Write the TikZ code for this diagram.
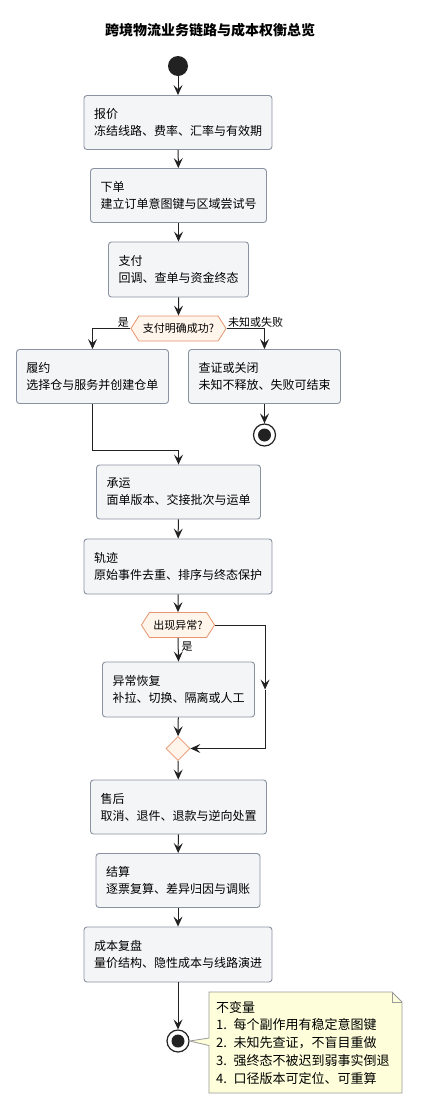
\documentclass[tikz,border=0pt]{standalone}
\usepackage{fontspec}
\setmainfont{Noto Sans CJK SC}
\usetikzlibrary{arrows.meta,shapes.symbols,shapes.geometric,calc}
\definecolor{boxfill}{HTML}{F4F5F7}
\definecolor{boxline}{HTML}{8A93A1}
\definecolor{decfill}{HTML}{FFF5EB}
\definecolor{decline}{HTML}{E8946C}
\definecolor{notefill}{HTML}{FEFFDA}
\definecolor{noteline}{HTML}{9A9A9A}
\definecolor{dot}{HTML}{222222}
\tikzset{
  act/.style={draw=boxline, fill=boxfill, rounded corners=3pt, line width=0.9pt,
    align=left, inner xsep=10pt, inner ysep=0pt, minimum height=54pt,
    font=\fontsize{12}{17}\selectfont},
  decision/.style={draw=decline, fill=decfill, line width=0.8pt, signal,
    signal to=west and east, signal pointer angle=115, minimum height=25pt,
    inner xsep=4pt, inner ysep=0pt, font=\fontsize{11}{13}\selectfont},
  merger/.style={draw=decline, fill=decfill, line width=0.8pt, diamond,
    minimum size=24pt, inner sep=0pt},
  startdot/.style={circle, fill=dot, minimum size=20pt, inner sep=0pt},
  stopdot/.style={circle, draw=dot, fill=white, line width=1.2pt, minimum size=22pt,
    inner sep=0pt, path picture={\fill[dot] (path picture bounding box.center) circle (6.5pt);}},
  flow/.style={-{Stealth[length=10pt,width=9pt,inset=4pt]}, line width=1pt, draw=dot},
  lbl/.style={font=\fontsize{11}{13}\selectfont, inner sep=1pt},
  notetext/.style={align=left, text width=179pt, inner xsep=7pt, inner ysep=0pt,
    minimum height=101pt, font=\fontsize{13}{17.75}\selectfont},
}
\begin{document}
\begin{tikzpicture}[x=1pt, y=-1pt]
  \fill[white] (0,0) rectangle (421,1112);
  \useasboundingbox (0,0) rectangle (421,1112);

  \node[font=\fontsize{14}{17}\selectfont\bfseries] (title) at (210,30) {跨境物流业务链路与成本权衡总览};

  \node[startdot] (start) at (178,66) {};
  \node[act] (quote) at (178,122.5) {报价\\冻结线路、费率、汇率与有效期};
  \node[act] (order) at (178.5,195.5) {下单\\建立订单意图键与区域尝试号};
  \node[act, minimum height=55pt] (pay) at (178.5,269.5) {支付\\回调、查单与资金终态};
  \node[decision] (dec1) at (178.5,328.5) {支付明确成功?};
  \node[act] (fulfil) at (92.5,376.5) {履约\\选择仓与服务并创建仓单};
  \node[act] (verify) at (264.5,376.5) {查证或关闭\\未知不释放、失败可结束};
  \node[stopdot] (stop1) at (264.5,435) {};
  \node[act] (carry) at (178.5,492) {承运\\面单版本、交接批次与运单};
  \node[act, minimum height=55pt] (track) at (178,566.5) {轨迹\\原始事件去重、排序与终态保护};
  \node[decision] (dec2) at (178,625) {出现异常?};
  \node[act, minimum height=55pt] (recover) at (178.5,689.5) {异常恢复\\补拉、切换、隔离或人工};
  \node[merger] (merge) at (178,748.5) {};
  \node[act] (after) at (178.5,807) {售后\\取消、退件、退款与逆向处置};
  \node[act] (settle) at (178,880.5) {结算\\逐票复算、差异归因与调账};
  \node[act, minimum height=55pt] (review) at (178,954.5) {成本复盘\\量价结构、隐性成本与线路演进};
  \node[stopdot] (stop2) at (178,1041) {};

  \draw[flow] (start) -- (quote);
  \draw[flow] (quote) -- (order);
  \draw[flow] (order) -- (pay);
  \draw[flow] (pay) -- (dec1);
  \draw[flow] (dec1.west) -| (fulfil.north) node[lbl, pos=0, anchor=south east] (yes1) {是};
  \draw[flow] (dec1.east) -| (verify.north) node[lbl, pos=0, anchor=south west] (nofail) {未知或失败};
  \draw[flow] (verify) -- (stop1);
  \path (carry.north) ++(0,-14) coordinate (join);
  \draw[flow] (fulfil.south) |- (join) -- (carry.north);
  \draw[flow] (carry) -- (track);
  \draw[flow] (track) -- (dec2);
  \draw[flow] (dec2.south) -- (recover.north) node[lbl, pos=0.35, right, xshift=2pt] (yes2) {是};
  \path (dec2.east) ++(50,0) coordinate (bypass);
  \path (bypass |- recover.center) coordinate (midby);
  \draw[flow] (dec2.east) -- (bypass) -- (midby);
  \draw[flow] (midby) |- (merge.east);
  \draw[flow] (recover) -- (merge);
  \draw[flow] (merge) -- (after);
  \draw[flow] (after) -- (settle);
  \draw[flow] (settle) -- (review);
  \draw[flow] (review) -- (stop2);

  % note
  \coordinate (notenw) at (209,992);
  \coordinate (notese) at (402,1093);
  \coordinate (fold1) at (392,992);
  \coordinate (fold2) at (402,1002);
  \coordinate (tailtop) at (209,1038);
  \coordinate (tailbot) at (209,1045.5);
  \filldraw[fill=notefill, draw=noteline, line width=0.8pt]
    (notenw) -- (fold1) -- (fold2) -- (notese) -- (notenw |- notese)
    -- (tailbot) -- (stop2.east) -- (tailtop) -- cycle;
  \draw[noteline, line width=0.8pt] (fold1) -- (fold1 |- fold2) -- (fold2);
  \node[notetext, anchor=north west] (note) at (notenw)
    {不变量\\1. 每个副作用有稳定意图键\\2. 未知先查证，不盲目重做\\3. 强终态不被迟到弱事实倒退\\4. 口径版本可定位、可重算};
\end{tikzpicture}
\end{document}
